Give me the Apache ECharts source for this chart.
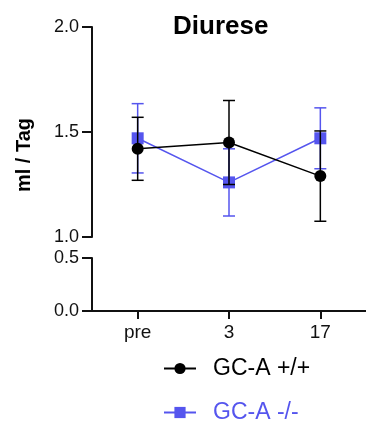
<!DOCTYPE html>
<html>
<head>
<meta charset="utf-8">
<script src="https://cdn.jsdelivr.net/npm/echarts@6/dist/echarts.min.js"></script>
<style>
  html, body { margin: 0; padding: 0; background: #fff; }
  #chart { width: 366px; height: 423px; }
</style>
</head>
<body>
<div id="chart"></div>
<script>
// Daily urine volume (ml / Tag), mean ± SEM
const categories = ['pre', '3', '17'];
const seriesNames = ['GC-A +/+', 'GC-A -/-'];
const wildTypeMean = [1.42, 1.45, 1.29];
const wildTypeErr = [0.15, 0.20, 0.215];
const knockoutMean = [1.47, 1.26, 1.47];
const knockoutErr = [0.165, 0.16, 0.145];
const upperTickValues = [1.0, 1.5, 2.0];   // upper segment of the broken axis
const lowerTickValues = [0.0, 0.5];        // lower segment of the broken axis

const FONT = 'Liberation Sans, Arial, Helvetica, sans-serif';
const INK = '#111';
const BLACK = '#000';
const BLUE = '#5555EE';
const TICK_LEN = 10;
const GRID_LEFT = 92;

function errorData(mean, err) {
  return mean.map((m, i) => [i, m - err[i], m + err[i]]);
}

function errorRenderer(color) {
  return function (params, api) {
    const x = api.value(0);
    const lo = api.coord([x, api.value(1)]);
    const hi = api.coord([x, api.value(2)]);
    const cap = 6;
    const style = { stroke: color, lineWidth: 1.5 };
    return {
      type: 'group',
      children: [
        { type: 'line', shape: { x1: lo[0], y1: lo[1], x2: hi[0], y2: hi[1] }, style },
        { type: 'line', shape: { x1: hi[0] - cap, y1: hi[1], x2: hi[0] + cap, y2: hi[1] }, style },
        { type: 'line', shape: { x1: lo[0] - cap, y1: lo[1], x2: lo[0] + cap, y2: lo[1] }, style }
      ]
    };
  };
}

function valueAxis(gridIndex, values) {
  return {
    type: 'value',
    gridIndex,
    min: values[0],
    max: values[values.length - 1],
    interval: values[1] - values[0],
    axisLine: { show: true, onZero: false, lineStyle: { color: INK, width: 2 } },
    axisTick: { show: true, length: TICK_LEN, lineStyle: { color: INK, width: 2 } },
    axisLabel: { show: true, color: INK, fontFamily: FONT, fontSize: 18, margin: 13, formatter: v => v.toFixed(1) },
    splitLine: { show: false }
  };
}

function legendFor(name, color, top) {
  return {
    data: [{ name, textStyle: { color } }],
    left: 158,
    top,
    itemWidth: 32,
    itemHeight: 14,
    textStyle: { fontFamily: FONT, fontSize: 23, padding: [0, 0, 0, 12] },
    selectedMode: false
  };
}

const yTitle = {
  type: 'text',
  id: 'yTitle',
  x: 24,
  y: 155,
  rotation: Math.PI / 2,
  style: {
    text: 'ml / Tag',
    fontFamily: FONT,
    fontSize: 20,
    fontWeight: 'bold',
    fill: BLACK,
    align: 'center',
    verticalAlign: 'middle'
  }
};

const chart = echarts.init(document.getElementById('chart'));

chart.setOption({
  animation: false,
  title: {
    text: 'Diurese',
    left: 168,
    top: 9,
    textStyle: { fontFamily: FONT, fontSize: 26, fontWeight: 'bold', color: BLACK }
  },
  graphic: [yTitle],
  legend: [
    legendFor(seriesNames[0], BLACK, 352),
    legendFor(seriesNames[1], BLUE, 396)
  ],
  grid: [
    { left: GRID_LEFT, top: 27, width: 285, height: 210 },
    { left: GRID_LEFT, top: 258, width: 285, height: 53 }
  ],
  xAxis: [
    { type: 'category', gridIndex: 0, data: categories, show: false },
    {
      type: 'category', gridIndex: 1, data: categories,
      axisLine: { show: true, lineStyle: { color: INK, width: 2 } },
      axisTick: { show: true, alignWithLabel: true, length: 8, lineStyle: { color: INK, width: 2 } },
      axisLabel: { color: INK, fontFamily: FONT, fontSize: 19, margin: 12 }
    }
  ],
  yAxis: [
    valueAxis(0, upperTickValues),
    valueAxis(1, lowerTickValues)
  ],
  series: [
    {
      name: seriesNames[1] + ' SEM', type: 'custom', xAxisIndex: 0, yAxisIndex: 0,
      renderItem: errorRenderer(BLUE), data: errorData(knockoutMean, knockoutErr), z: 2, silent: true
    },
    {
      name: seriesNames[1], type: 'line', xAxisIndex: 0, yAxisIndex: 0,
      data: knockoutMean, symbol: 'rect', symbolSize: 12,
      itemStyle: { color: BLUE }, lineStyle: { color: BLUE, width: 1.5 }, z: 3
    },
    {
      name: seriesNames[0] + ' SEM', type: 'custom', xAxisIndex: 0, yAxisIndex: 0,
      renderItem: errorRenderer(BLACK), data: errorData(wildTypeMean, wildTypeErr), z: 4, silent: true
    },
    {
      name: seriesNames[0], type: 'line', xAxisIndex: 0, yAxisIndex: 0,
      data: wildTypeMean, symbol: 'circle', symbolSize: 12,
      itemStyle: { color: BLACK }, lineStyle: { color: BLACK, width: 1.5 }, z: 5
    }
  ]
});

// Outward tick marks on both y-axis segments, positioned through each value axis
const tickMarks = [];
[upperTickValues, lowerTickValues].forEach((values, axisIndex) => {
  values.forEach(v => {
    const y = chart.convertToPixel({ yAxisIndex: axisIndex }, v);
    tickMarks.push({
      type: 'line',
      z: 100,
      shape: { x1: GRID_LEFT - TICK_LEN, y1: y, x2: GRID_LEFT, y2: y },
      style: { stroke: INK, lineWidth: 2 }
    });
  });
});
chart.setOption({ graphic: [yTitle].concat(tickMarks) });
</script>
</body>
</html>
